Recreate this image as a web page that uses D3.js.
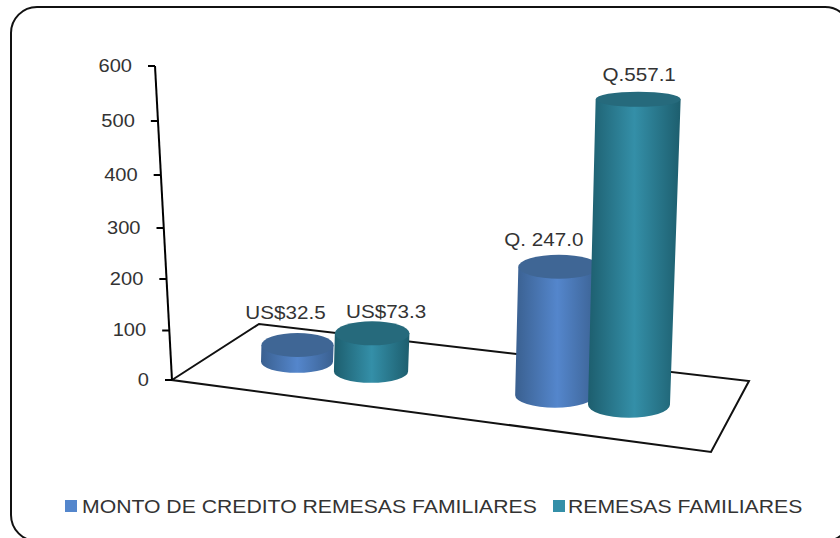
<!DOCTYPE html>
<html lang="es">
<head>
<meta charset="utf-8">
<title>Remesas familiares</title>
<script src="https://cdn.jsdelivr.net/npm/d3@7"></script>
<style>
  html, body { margin: 0; padding: 0; background: #fff; overflow: hidden; }
  svg { display: block; }
  text { font-family: "Liberation Sans", Arial, sans-serif; fill: #333; }
  .axis text { font-size: 18px; }
  .axis line { stroke: #000; stroke-width: 2px; }
  .value { font-size: 18.5px; text-anchor: middle; }
  .legend { font-size: 19px; }
</style>
</head>
<body>
<div id="chart"></div>
<script>
// data
const groups = ["US$", "Q"];
const seriesNames = ["MONTO DE CREDITO REMESAS FAMILIARES", "REMESAS FAMILIARES"];
const montoCredito = [32.5, 247.0];
const remesas = [73.3, 557.1];
const montoLabels = ["US$32.5", "Q. 247.0"];
const remesasLabels = ["US$73.3", "Q.557.1"];
const yTicks = [0, 100, 200, 300, 400, 500, 600];

// layout
const WIDTH = 840, HEIGHT = 538;
const colors = [
  { edge: "#3a6090", mid: "#5486cc", top: "#3f6695" },
  { edge: "#1d5e6e", mid: "#348fa8", top: "#266a7c" }
];
// the picture is a 3d view so the axis and floor are foreshortened
const floor = [[172, 380], [259, 324], [749, 381], [711, 452]];
const labelNudge = [[-12, -14], [14, -3], [-15, -9], [1, -11]];
const STRETCH = 1.115; // the source image was widened a little

const svg = d3.select("#chart").append("svg")
  .attr("width", WIDTH).attr("height", HEIGHT)
  .attr("viewBox", [0, 0, WIDTH, HEIGHT]);

const defs = svg.append("defs");
colors.forEach((c, i) => {
  const g = defs.append("linearGradient").attr("id", "cyl" + i);
  g.append("stop").attr("offset", "0%").attr("stop-color", c.edge);
  g.append("stop").attr("offset", "50%").attr("stop-color", c.mid);
  g.append("stop").attr("offset", "100%").attr("stop-color", c.edge);
});

function widen(sel) {
  sel.each(function() {
    const len = this.getComputedTextLength();
    d3.select(this).attr("textLength", len * STRETCH).attr("lengthAdjust", "spacingAndGlyphs");
  });
}

// frame
svg.append("rect")
  .attr("x", 11).attr("y", 7)
  .attr("width", 840).attr("height", 534)
  .attr("rx", 26).attr("ry", 26)
  .attr("fill", "#fff").attr("stroke", "#111").attr("stroke-width", 2);

// scales
const y = d3.scaleLinear()
  .domain(yTicks)
  .range([380, 330.5, 279, 228, 175, 121, 66]);
const axisX = d3.scaleLinear().domain([0, 600]).range([172, 155]);

const x0 = d3.scaleBand().domain(groups).range([205, 721]);
const x1 = d3.scaleBand().domain([0, 1]).range([-74, 74]);
const baseY = d3.scaleLinear().domain([298, 631]).range([362, 405]);
const baseRx = d3.scaleLinear().domain([298, 631]).range([36, 41]);
const baseRy = d3.scaleLinear().domain([298, 631]).range([11, 13]);
const rise = d3.scaleLinear().domain([0, 250, 600]).range([0, 130, 330]);
const topRy = d3.scaleLinear().domain([0, 250, 600]).range([12, 12, 7]);

const bars = [];
groups.forEach((g, i) => {
  bars.push({ group: g, s: 0, value: montoCredito[i], label: montoLabels[i] });
  bars.push({ group: g, s: 1, value: remesas[i], label: remesasLabels[i] });
});
bars.forEach((d) => {
  d.bx = x0(d.group) + x0.bandwidth() / 2 + x1(d.s) + x1.bandwidth() / 2;
  d.by = baseY(d.bx);
  d.brx = baseRx(d.bx);
  d.bry = baseRy(d.bx);
  d.h = rise(d.value);
  d.tx = d.bx + d.h * 0.03;
  d.ty = d.by - d.h;
  d.trx = d.brx + d.h * 0.005;
  d.try_ = topRy(d.value);
});

// floor
svg.append("path")
  .attr("d", d3.line()(floor) + "Z")
  .attr("fill", "#fff").attr("stroke", "#111").attr("stroke-width", 2);

// value axis, ticks slide along the slanted line
const axis = svg.append("g").attr("class", "axis")
  .call(d3.axisLeft(y).tickValues(yTicks).tickFormat(d3.format("d")).tickSize(7).tickPadding(16));
axis.select(".domain").remove();
axis.selectAll(".tick").attr("transform", (d) => `translate(${axisX(d)},${y(d)})`);
axis.attr("font-family", null).attr("font-size", null);
axis.selectAll(".tick text").call(widen);
axis.append("line")
  .attr("x1", axisX(0)).attr("y1", y(0))
  .attr("x2", axisX(600)).attr("y2", y(600));

// cylinders
const bar = svg.selectAll("g.bar").data(bars).join("g").attr("class", "bar");
bar.append("path")
  .attr("fill", (d) => `url(#cyl${d.s})`)
  .attr("d", (d) =>
    `M${d.tx - d.trx},${d.ty}L${d.bx - d.brx},${d.by}` +
    `A${d.brx},${d.bry} 0 0 0 ${d.bx + d.brx},${d.by}` +
    `L${d.tx + d.trx},${d.ty}Z`);
bar.append("ellipse")
  .attr("cx", (d) => d.tx).attr("cy", (d) => d.ty)
  .attr("rx", (d) => d.trx).attr("ry", (d) => d.try_)
  .attr("fill", (d) => colors[d.s].top);

// value labels
svg.selectAll("text.value").data(bars).join("text")
  .attr("class", "value")
  .attr("x", (d, i) => d.tx + labelNudge[i][0])
  .attr("y", (d, i) => d.ty - d.try_ + labelNudge[i][1])
  .text((d) => d.label)
  .call(widen);

// legend
const legendX = [65, 553];
const legend = svg.selectAll("g.legend").data(seriesNames).join("g")
  .attr("class", "legend")
  .attr("transform", (d, i) => `translate(${legendX[i]},500)`);
legend.append("rect")
  .attr("width", 12).attr("height", 12)
  .attr("fill", (d, i) => colors[i].mid);
legend.append("text")
  .attr("x", (d, i) => i ? 15 : 17).attr("y", 13)
  .text((d) => d)
  .call(widen);
</script>
</body>
</html>
